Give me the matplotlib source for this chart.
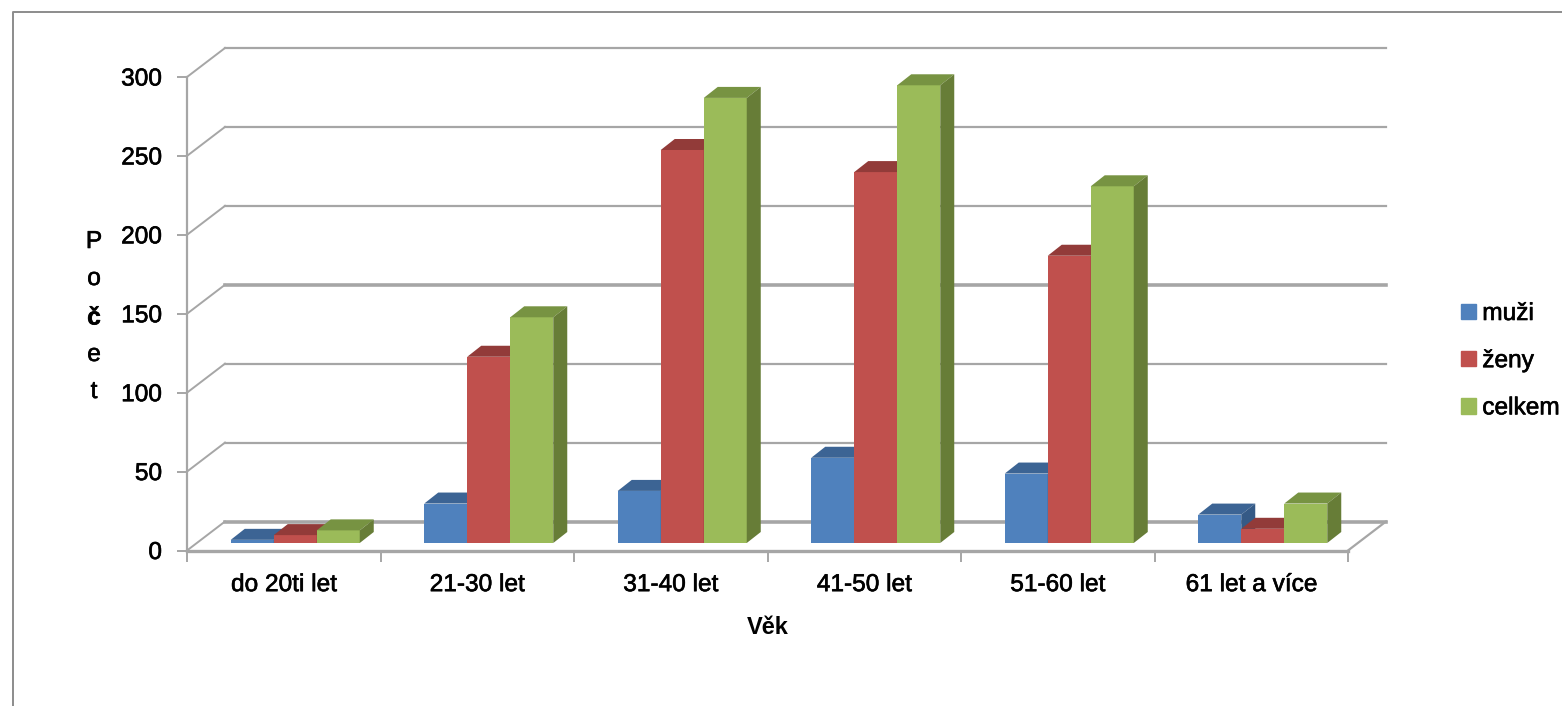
import matplotlib
matplotlib.use('Agg')
import matplotlib.pyplot as plt
import matplotlib.patheffects as pe
from matplotlib.lines import Line2D
from matplotlib.patches import Patch

plt.rcParams['font.family'] = ['Liberation Sans', 'DejaVu Sans']

categories = ['do 20ti let', '21-30 let', '31-40 let', '41-50 let', '51-60 let', '61 let a více']
muzi = [2, 25, 33, 54, 44, 18]
zeny = [5, 118, 249, 235, 182, 9]
celkem = [8, 143, 282, 290, 226, 25]
y_ticks = [0, 50, 100, 150, 200, 250, 300]
axis_letters = ['P', 'o', 'č', 'e', 't']

series_names = ['muži', 'ženy', 'celkem']
front_colors = ['#4F81BD', '#C0504D', '#9BBB59']
top_colors = ['#3C6494', '#923B39', '#779342']
side_colors = ['#355A86', '#8A3836', '#677D37']

W, H = 1562, 706
GREY = '#a6a6a6'
FS = 17.6
thicker = [pe.withStroke(linewidth=0.45, foreground='black')]

fig = plt.figure(figsize=(W / 100, H / 100), dpi=100)

# front plane of the fake 3d box
left, right, top, bottom = 187, 1348, 77, 550.5
ax = fig.add_axes([left / W, 1 - bottom / H, (right - left) / W, (bottom - top) / H])
ax.set_xlim(-0.5, 5.5)
ax.set_ylim(0, 300)

px_x = 6 / (right - left)
px_y = 300 / (bottom - top)

# wall depth, bar depth
wall_dx, wall_dy = 38 * px_x, 29 * px_y
bar_dx, bar_dy = 14 * px_x, 11 * px_y
bar_w = 43 * px_x
shift_x, floor_y = 11.5 * px_x, 7.5 * px_y

# walls and floor
for v in y_ticks:
    lw = 2.6 if v in (0, 150) else 1.6
    ax.plot([-0.5, -0.5 + wall_dx], [v, v + wall_dy], color=GREY, lw=1.4, clip_on=False, zorder=1)
    ax.plot([-0.5 + wall_dx, 5.5 + wall_dx], [v + wall_dy, v + wall_dy],
            color=GREY, lw=lw, clip_on=False, zorder=1)
ax.plot([5.5, 5.5 + wall_dx], [0, wall_dy], color=GREY, lw=1.6, clip_on=False, zorder=1)

# bars, painted left to right
for s, values in enumerate([muzi, zeny, celkem]):
    for i, v in enumerate(values):
        x0 = i + shift_x + (s - 1.5) * bar_w
        x1 = x0 + bar_w
        y1 = floor_y + v
        ax.bar(x0, v, bar_w, bottom=floor_y, align='edge', color=front_colors[s], zorder=3 + s,
               clip_on=False)
        ax.fill([x0, x0 + bar_dx, x1 + bar_dx, x1], [y1, y1 + bar_dy, y1 + bar_dy, y1],
                color=top_colors[s], lw=0, zorder=3 + s, clip_on=False)
        ax.fill([x1, x1 + bar_dx, x1 + bar_dx, x1], [floor_y, floor_y + bar_dy, y1 + bar_dy, y1],
                color=side_colors[s], lw=0, zorder=3 + s, clip_on=False)

for name in ['top', 'right']:
    ax.spines[name].set_visible(False)
ax.spines['left'].set_color(GREY)
ax.spines['left'].set_linewidth(1.6)
ax.spines['bottom'].set_color(GREY)
ax.spines['bottom'].set_linewidth(2.4)
ax.patch.set_alpha(0)

ax.set_yticks(y_ticks)
ax.tick_params(axis='y', length=7, width=1.4, color=GREY, pad=11, labelsize=FS, labelcolor='black')
ax.set_xticks([i - 0.5 for i in range(7)])
ax.set_xticklabels([])
ax.tick_params(axis='x', which='major', length=8, width=1.4, color=GREY)
ax.set_xticks(range(6), minor=True)
ax.set_xticklabels(categories, minor=True, fontsize=FS)
ax.tick_params(axis='x', which='minor', length=0, pad=17)
for lab in ax.get_yticklabels() + ax.get_xticklabels(minor=True):
    lab.set_path_effects(thicker)

fig.text(768 / W, 1 - 627 / H, 'Věk', ha='center', va='center', fontsize=FS - 0.6, fontweight='bold')
for letter, y in zip(axis_letters, [242, 279, 318, 355, 392]):
    fig.text(94 / W, 1 - y / H, letter, ha='center', va='center', fontsize=FS,
             fontweight='bold' if letter == 'č' else 'normal', path_effects=thicker)

handles = [Patch(color=c) for c in front_colors]
leg = fig.legend(handles, series_names, loc='upper left', bbox_to_anchor=(1461 / W, 1 - 303 / H),
                 frameon=False, fontsize=FS, borderpad=0, borderaxespad=0, handlelength=0.61,
                 handleheight=0.61, handletextpad=0.26, labelspacing=1.03)
for t in leg.get_texts():
    t.set_path_effects(thicker)

# outer chart frame, cut off by the image
fig.add_artist(Line2D([13 / W, 13 / W, 1], [0, 1 - 12 / H, 1 - 12 / H], color='#8c8c8c', lw=1.4))

fig.savefig('out.png', dpi=100)
